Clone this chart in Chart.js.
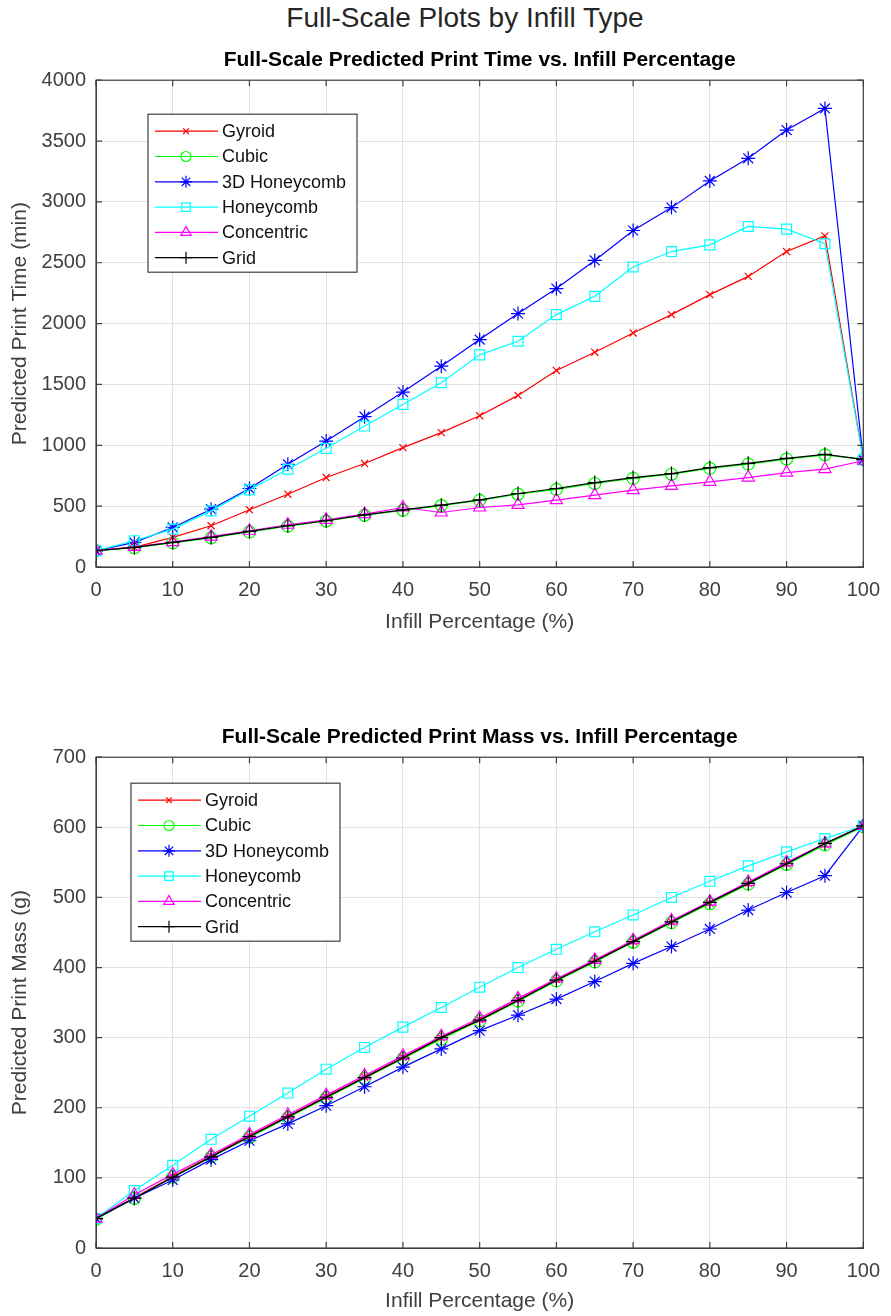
<!DOCTYPE html>
<html>
<head>
<meta charset="utf-8">
<script src="https://cdn.jsdelivr.net/npm/chart.js@4.4.0/dist/chart.umd.min.js"></script>
<style>
  body { margin: 0; background: #fff; width: 891px; height: 1316px; overflow: hidden; position: relative; }
  #mainTitle { position: absolute; left: 40px; width: 850px; top: 4px; text-align: center;
    font: 28px "Liberation Sans", Arial, sans-serif; color: #262626; line-height: 1; }
  canvas { position: absolute; left: 0; }
  #timeChart { top: 38px; }
  #massChart { top: 715px; }
</style>
</head>
<body>
<div id="mainTitle">Full-Scale Plots by Infill Type</div>
<canvas id="timeChart" width="891" height="604"></canvas>
<canvas id="massChart" width="891" height="601"></canvas>
<script>
// infill percentages on x
const infill = [0, 5, 10, 15, 20, 25, 30, 35, 40, 45, 50, 55, 60, 65, 70, 75, 80, 85, 90, 95, 100];

const seriesNames = ['Gyroid', 'Cubic', '3D Honeycomb', 'Honeycomb', 'Concentric', 'Grid'];

// predicted print time (min)
const gyroidTime     = [134, 161, 243, 339, 470, 598, 735, 850, 981, 1104, 1243, 1410, 1615, 1765, 1923, 2074, 2238, 2388, 2592, 2721, 885];
const cubicTime      = [134, 158, 198, 240, 288, 336, 378, 425, 466, 505, 548, 598, 638, 686, 728, 762, 810, 845, 887, 922, 885];
const honey3DTime    = [134, 202, 325, 475, 645, 844, 1035, 1235, 1437, 1650, 1869, 2082, 2288, 2519, 2765, 2953, 3172, 3358, 3590, 3768, 880];
const honeycombTime  = [134, 216, 311, 461, 634, 803, 975, 1158, 1336, 1514, 1743, 1855, 2074, 2224, 2465, 2592, 2647, 2798, 2776, 2656, 880];
const concentricTime = [134, 165, 205, 250, 298, 347, 388, 435, 489, 448, 489, 511, 549, 590, 631, 667, 700, 735, 776, 805, 873];
const gridTime       = [134, 161, 202, 243, 292, 339, 380, 429, 470, 508, 552, 604, 645, 694, 735, 768, 817, 852, 893, 926, 885];

// predicted print mass (g)
const gyroidMass     = [42, 72, 102, 131, 160, 188, 216, 244, 272, 300, 326, 354, 383, 410, 437, 465, 492, 520, 548, 576, 602];
const cubicMass      = [41, 71, 101, 130, 158, 186, 214, 242, 270, 298, 324, 352, 381, 408, 436, 464, 491, 519, 547, 575, 601];
const honey3DMass    = [42, 71, 97, 126, 153, 177, 203, 230, 258, 284, 310, 332, 355, 380, 406, 430, 455, 482, 507, 531, 602];
const honeycombMass  = [42, 82, 118, 155, 188, 221, 255, 286, 315, 343, 372, 400, 426, 451, 475, 500, 523, 545, 565, 584, 602];
const concentricMass = [42, 76, 105, 133, 162, 190, 218, 246, 274, 302, 328, 356, 384, 411, 439, 467, 494, 522, 550, 577, 602];
const gridMass       = [42, 71, 101, 130, 159, 187, 215, 243, 271, 300, 325, 353, 382, 409, 437, 465, 493, 520, 548, 577, 602];

const colors  = ['#ff0000', '#00ff00', '#0000ff', '#00ffff', '#ff00ff', '#000000'];
const markers = ['crossRot', 'circle', 'star', 'rect', 'triangle', 'cross'];
const radii   = [5, 6, 7, 7, 7, 7];

Chart.defaults.font.family = '"Liberation Sans", Arial, Helvetica, sans-serif';
const axisColor = '#404040';

function makeDatasets(list) {
  return list.map((vals, i) => ({
    label: seriesNames[i],
    data: vals.map((v, k) => ({ x: infill[k], y: v })),
    borderColor: colors[i],
    borderWidth: 1.2,
    pointStyle: markers[i],
    pointRadius: radii[i],
    pointBorderColor: colors[i],
    pointBackgroundColor: 'rgba(0,0,0,0)',
    pointBorderWidth: 1.2,
    fill: false,
    tension: 0,
    order: 6 - i
  }));
}

// box around the axes plus inward ticks, like MATLAB "box on"
const framePlugin = {
  id: 'frame',
  afterDraw(chart) {
    const { ctx, chartArea: a, scales } = chart;
    ctx.save();
    ctx.strokeStyle = axisColor;
    ctx.lineWidth = 1.2;
    ctx.strokeRect(a.left, a.top, a.right - a.left, a.bottom - a.top);
    ctx.beginPath();
    scales.x.ticks.forEach(t => {
      const px = scales.x.getPixelForValue(t.value);
      ctx.moveTo(px, a.bottom); ctx.lineTo(px, a.bottom - 6);
      ctx.moveTo(px, a.top); ctx.lineTo(px, a.top + 6);
    });
    scales.y.ticks.forEach(t => {
      const py = scales.y.getPixelForValue(t.value);
      ctx.moveTo(a.left, py); ctx.lineTo(a.left + 6, py);
      ctx.moveTo(a.right, py); ctx.lineTo(a.right - 6, py);
    });
    ctx.stroke();
    ctx.restore();
  }
};

// legend box drawn inside the axes
const boxLegend = {
  id: 'boxLegend',
  afterDraw(chart, args, opts) {
    const { ctx, chartArea: a } = chart;
    const x0 = a.left + opts.x, y0 = a.top + opts.y;
    const w = 209, h = 158, step = 25.3;
    ctx.save();
    ctx.fillStyle = '#fff';
    ctx.fillRect(x0, y0, w, h);
    ctx.strokeStyle = axisColor;
    ctx.lineWidth = 1.2;
    ctx.strokeRect(x0, y0, w, h);
    ctx.font = '18px "Liberation Sans", Arial, sans-serif';
    ctx.textBaseline = 'middle';
    chart.data.datasets.forEach((ds, i) => {
      const y = y0 + 17 + i * step;
      ctx.strokeStyle = ds.borderColor;
      ctx.lineWidth = 1.2;
      ctx.beginPath();
      ctx.moveTo(x0 + 7, y); ctx.lineTo(x0 + 70, y);
      ctx.stroke();
      ctx.fillStyle = 'rgba(0,0,0,0)';
      Chart.helpers.drawPoint(ctx, { pointStyle: ds.pointStyle, radius: ds.pointRadius - 1, borderWidth: 1.2, rotation: 0 }, x0 + 38, y);
      ctx.fillStyle = '#111';
      ctx.fillText(ds.label, x0 + 74, y + 1);
    });
    ctx.restore();
  }
};

function buildChart(id, title, yTitle, yMax, yStep, datasets, legendPos, xHeight, xTitlePad) {
  return new Chart(document.getElementById(id), {
    type: 'line',
    data: { datasets: datasets },
    plugins: [framePlugin, boxLegend],
    options: {
      responsive: false,
      animation: false,
      layout: { padding: { left: 0, right: 21, top: 0, bottom: 0 } },
      plugins: {
        legend: { display: false },
        tooltip: { enabled: false },
        title: {
          display: true, text: title, color: '#000', fullSize: false,
          font: { size: 21, weight: 'bold' }, padding: { top: 10, bottom: 7 }
        },
        boxLegend: legendPos
      },
      scales: {
        x: {
          type: 'linear', min: 0, max: 100,
          ticks: { stepSize: 10, color: axisColor, font: { size: 20 }, padding: 11, callback: v => String(v) },
          grid: { color: '#e2e2e2', drawTicks: false },
          border: { color: axisColor },
          title: { display: true, text: 'Infill Percentage (%)', color: axisColor, font: { size: 21 }, padding: { bottom: xTitlePad } },
          afterFit: s => { s.height = xHeight; }
        },
        y: {
          type: 'linear', min: 0, max: yMax,
          ticks: { stepSize: yStep, color: axisColor, font: { size: 20 }, padding: 10, callback: v => String(v) },
          grid: { color: '#e2e2e2', drawTicks: false },
          border: { color: axisColor },
          title: { display: true, text: yTitle, color: axisColor, font: { size: 21 }, padding: { top: 8 } },
          afterFit: s => { s.width = 96; }
        }
      }
    }
  });
}

buildChart('timeChart', 'Full-Scale Predicted Print Time vs. Infill Percentage', 'Predicted Print Time (min)',
  4000, 500,
  makeDatasets([gyroidTime, cubicTime, honey3DTime, honeycombTime, concentricTime, gridTime]),
  { x: 52, y: 34 }, 75, 7);

buildChart('massChart', 'Full-Scale Predicted Print Mass vs. Infill Percentage', 'Predicted Print Mass (g)',
  700, 100,
  makeDatasets([gyroidMass, cubicMass, honey3DMass, honeycombMass, concentricMass, gridMass]),
  { x: 35, y: 26 }, 68, 2);
</script>
</body>
</html>
